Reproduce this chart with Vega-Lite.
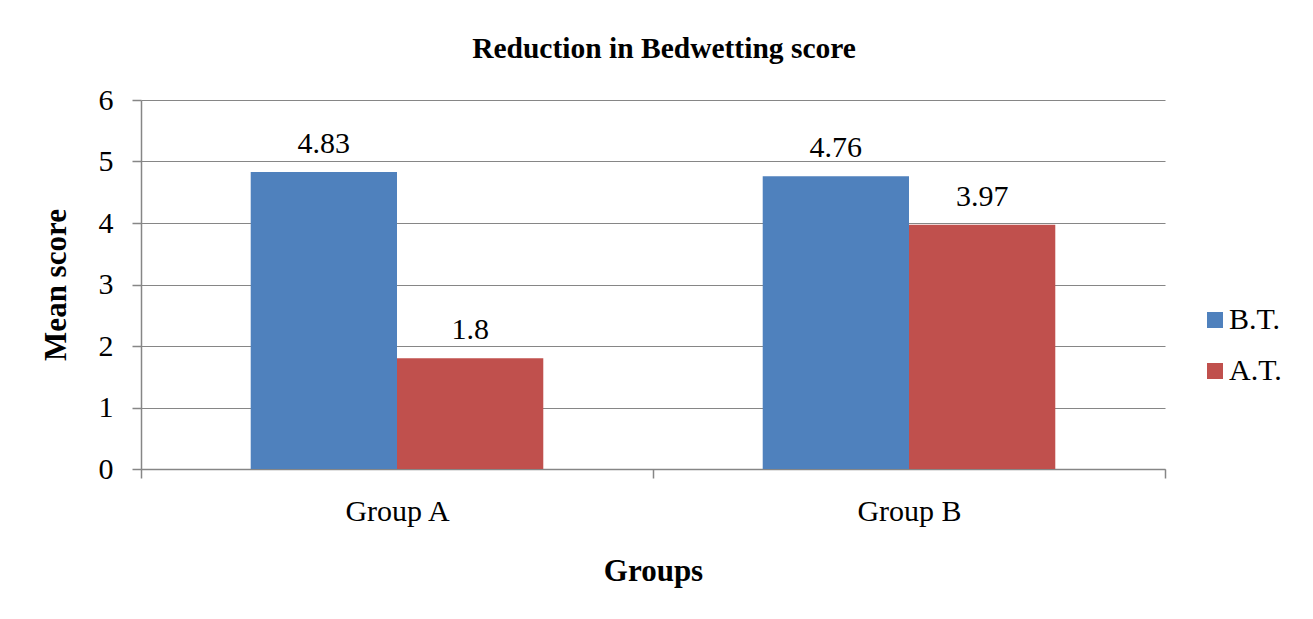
{
  "$schema": "https://vega.github.io/schema/vega-lite/v6.json",
  "autosize": "none",
  "width": 1024,
  "height": 369,
  "padding": {"left": 141, "top": 100, "right": 148, "bottom": 150},
  "background": "white",
  "title": {
    "text": "Reduction in Bedwetting score",
    "font": "Liberation Serif",
    "fontSize": 29.5,
    "fontWeight": "bold",
    "color": "black",
    "anchor": "middle",
    "frame": "group",
    "baseline": "alphabetic",
    "dx": 11,
    "dy": 44,
    "offset": 42
  },
  "data": {
    "values": [
      {"group": "Group A", "time": "B.T.", "score": 4.83},
      {"group": "Group A", "time": "A.T.", "score": 1.8},
      {"group": "Group B", "time": "B.T.", "score": 4.76},
      {"group": "Group B", "time": "A.T.", "score": 3.97}
    ]
  },
  "encoding": {
    "x": {
      "field": "group",
      "type": "nominal",
      "scale": {"paddingInner": 0, "paddingOuter": 0},
      "axis": {
        "title": "Groups",
        "labelAngle": 0,
        "tickBand": "extent",
        "tickSize": 9,
        "labelPadding": 18,
        "titlePadding": 30,
        "titleFontSize": 31,
        "titleFontWeight": "bold",
        "labelFontSize": 30
      }
    },
    "xOffset": {
      "field": "time",
      "type": "nominal",
      "sort": ["B.T.", "A.T."],
      "scale": {"paddingInner": 0, "paddingOuter": 0.75}
    },
    "y": {
      "field": "score",
      "type": "quantitative",
      "scale": {"domain": [0, 6]},
      "axis": {
        "title": "Mean score",
        "tickCount": 6,
        "tickSize": 9,
        "labelPadding": 19,
        "titlePadding": 26,
        "titleFontSize": 31,
        "titleFontWeight": "bold",
        "labelFontSize": 30
      }
    }
  },
  "layer": [
    {
      "mark": {"type": "bar"},
      "encoding": {
        "color": {
          "field": "time",
          "type": "nominal",
          "sort": ["B.T.", "A.T."],
          "scale": {"domain": ["B.T.", "A.T."], "range": ["#4F81BD", "#C0504D"]},
          "legend": {
            "title": null,
            "orient": "none",
            "legendX": 1059,
            "legendY": 205,
            "symbolType": "square",
            "symbolSize": 256,
            "symbolStrokeWidth": 0,
            "labelFontSize": 30,
            "labelFont": "Liberation Serif",
            "labelColor": "black",
            "rowPadding": 21,
            "labelOffset": -1
          }
        }
      }
    },
    {
      "mark": {"type": "text", "baseline": "alphabetic", "dy": -19, "fontSize": 30, "font": "Liberation Serif", "color": "black"},
      "encoding": {
        "text": {"field": "score", "type": "quantitative"}
      }
    }
  ],
  "config": {
    "font": "Liberation Serif",
    "view": {"stroke": null},
    "axis": {
      "labelFont": "Liberation Serif",
      "titleFont": "Liberation Serif",
      "labelColor": "black",
      "titleColor": "black",
      "domainColor": "#868686",
      "tickColor": "#868686",
      "gridColor": "#868686",
      "domainWidth": 1.5,
      "tickWidth": 1.5
    },
    "axisX": {"grid": false},
    "axisY": {"grid": true, "gridWidth": 1.2}
  }
}
